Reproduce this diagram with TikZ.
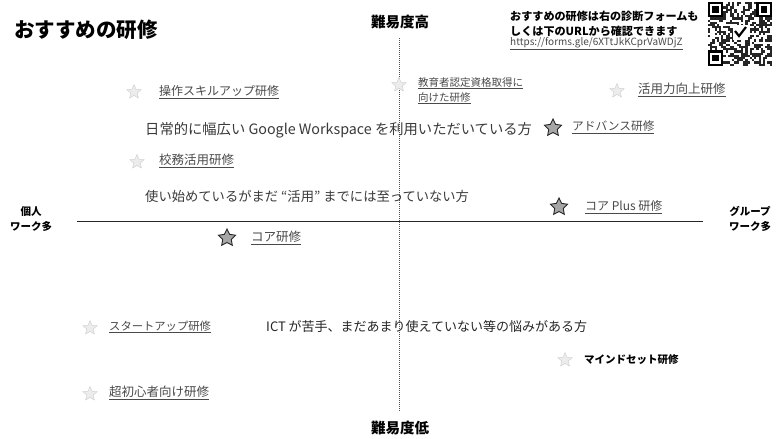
\documentclass[tikz,border=0pt]{standalone}
\usepackage{fontspec}
\setmainfont{Noto Sans CJK JP}
\usetikzlibrary{shapes.geometric}
\definecolor{labgray}{HTML}{4A4A4A}
\definecolor{txtgray}{HTML}{3A3A3A}
\tikzset{
  faintstar/.style={star, star points=5, star point ratio=2.2, minimum size=15pt, inner sep=0pt, fill=gray!15, draw=gray!40, line width=0.4pt},
  darkstar/.style={star, star points=5, star point ratio=2.0, minimum size=18pt, inner sep=0pt, fill=gray!70, draw=black!85, line width=0.9pt},
  lab/.style={anchor=west, inner sep=0pt, text=labgray, font=\fontsize{12}{14}\selectfont},
  desc/.style={anchor=west, inner sep=0pt, text=txtgray, font=\fontsize{13.3}{15}\selectfont},
  axislab/.style={inner sep=0pt, font=\fontsize{14.5}{16}\selectfont\bfseries},
  sidelab/.style={inner sep=0pt, align=center, font=\fontsize{10.5}{15}\selectfont\bfseries},
  axisline/.style={line width=0.9pt, black!85},
  vaxis/.style={line width=0.6pt, black!70, dash pattern=on 1pt off 1pt},
  qrmod/.style={fill=black!85}
}
\begin{document}
\begin{tikzpicture}[x=1pt,y=-1pt]
\useasboundingbox (0,0) rectangle (780,439);
\fill[white] (0,0) rectangle (780,439);

% title and header
\node[anchor=west, inner sep=0pt, font=\fontsize{20.5}{24}\selectfont\bfseries] (title) at (14,30) {おすすめの研修};
\node[axislab] (high) at (400,22) {難易度高};
\node[axislab] (low) at (400,428) {難易度低};
\node[sidelab] (left) at (31,219) {個人\\ワーク多};
\node[sidelab] (right) at (750,219) {グループ\\ワーク多};

\node[anchor=west, inner sep=0pt, font=\fontsize{11.1}{12}\selectfont\bfseries] (info1) at (510,16) {おすすめの研修は右の診断フォームも};
\node[anchor=west, inner sep=0pt, font=\fontsize{11.1}{12}\selectfont\bfseries] (info2) at (510,31) {しくは下のURLから確認できます};
\node[anchor=west, inner sep=0pt, text=labgray, font=\fontsize{10}{11}\selectfont] (url) at (510,44) {\underline{https://forms.gle/6XTtJkKCprVaWDjZ}};

% QR code
\begin{scope}
\pgfmathsetseed{4242}
\foreach \i in {0,...,28}{
  \foreach \j in {0,...,28}{
    \pgfmathrandominteger{\r}{0}{1}
    \ifnum\r=1
      \fill[qrmod] ({708+\i*2.2},{2+\j*2.2}) rectangle ++(2.2,2.2);
    \fi
  }
}
\foreach \ox/\oy in {0/0, 22/0, 0/22}{
  \fill[white] ({708+\ox*2.2},{2+\oy*2.2}) rectangle ++(7*2.2,7*2.2);
  \fill[black] ({708+\ox*2.2},{2+\oy*2.2}) rectangle ++(7*2.2,7*2.2);
  \fill[white] ({708+(\ox+1)*2.2},{2+(\oy+1)*2.2}) rectangle ++(5*2.2,5*2.2);
  \fill[black] ({708+(\ox+2)*2.2},{2+(\oy+2)*2.2}) rectangle ++(3*2.2,3*2.2);
}
\fill[white] (733,25) rectangle (748,40);
\draw[line width=2.2pt, black] (735,31) -- (739,36) -- (746,27);
\end{scope}

% axes
\coordinate (hL) at (77,221);
\coordinate (hR) at (703,221);
\coordinate (vT) at (399,38);
\coordinate (vB) at (399,412);
\draw[axisline] (hL) -- (hR);
\draw[vaxis] (vT) -- (vB);

% quadrant items
\node[faintstar] (s1) at (134,92) {};
\node[lab] (l1) at (159,92) {\underline{操作スキルアップ研修}};

\node[faintstar] (s2) at (399,85) {};
\node[lab, align=left, anchor=north west, font=\fontsize{10.5}{15}\selectfont] (l2) at (418,77) {\underline{教育者認定資格取得に}\\\underline{向けた研修}};

\node[faintstar] (s3) at (617,91) {};
\node[lab, font=\fontsize{12.5}{14}\selectfont] (l3) at (638,90) {\underline{活用力向上研修}};

\node[desc, font=\fontsize{14.3}{16}\selectfont] (d1) at (145,130) {日常的に幅広い Google Workspace を利用いただいている方};

\node[darkstar] (s4) at (553,128) {};
\node[lab, font=\fontsize{11.7}{14}\selectfont] (l4) at (572,127) {\underline{アドバンス研修}};

\node[faintstar] (s5) at (137,162) {};
\node[lab, font=\fontsize{12.5}{14}\selectfont] (l5) at (159,161) {\underline{校務活用研修}};

\node[desc] (d2) at (145,196) {使い始めているがまだ “活用” までには至っていない方};

\node[darkstar] (s6) at (559,207) {};
\node[lab] (l6) at (585,207) {\underline{コア Plus 研修}};

\node[darkstar] (s7) at (227,238) {};
\node[lab, font=\fontsize{12.5}{14}\selectfont] (l7) at (251,238) {\underline{コア研修}};

\node[faintstar] (s8) at (90,328) {};
\node[lab, font=\fontsize{11.3}{14}\selectfont] (l8) at (109,327) {\underline{スタートアップ研修}};

\node[desc, text=black!85, font=\fontsize{13}{15}\selectfont] (d3) at (266,327) {ICT が苦手、まだあまり使えていない等の悩みがある方};

\node[faintstar] (s9) at (565,360) {};
\node[anchor=west, inner sep=0pt, font=\fontsize{10.5}{12}\selectfont\bfseries] (l9) at (584,360) {マインドセット研修};

\node[faintstar] (s10) at (90,394) {};
\node[lab, font=\fontsize{12.5}{14}\selectfont] (l10) at (109,393) {\underline{超初心者向け研修}};
\end{tikzpicture}
\end{document}
